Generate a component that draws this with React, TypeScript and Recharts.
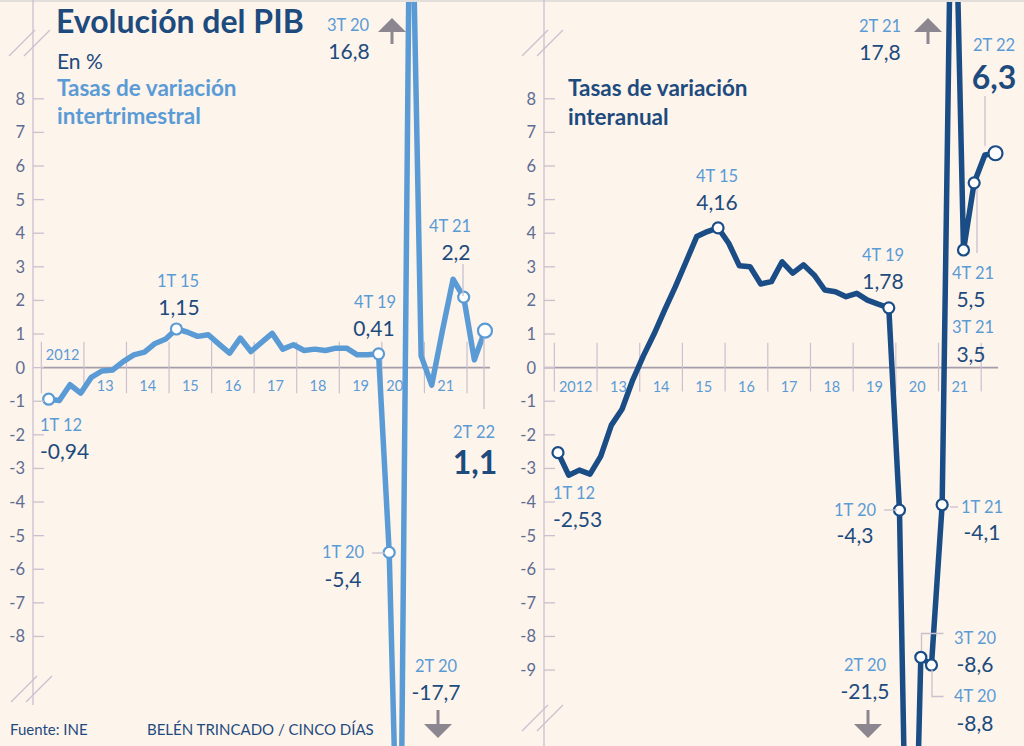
import React from "react";
import { LineChart, Line, XAxis, YAxis, ReferenceLine, ReferenceDot } from "recharts";

// 1T 12 ... 2T 22
const quarters = [
  "1T 12", "2T 12", "3T 12", "4T 12", "1T 13", "2T 13", "3T 13", "4T 13",
  "1T 14", "2T 14", "3T 14", "4T 14", "1T 15", "2T 15", "3T 15", "4T 15",
  "1T 16", "2T 16", "3T 16", "4T 16", "1T 17", "2T 17", "3T 17", "4T 17",
  "1T 18", "2T 18", "3T 18", "4T 18", "1T 19", "2T 19", "3T 19", "4T 19",
  "1T 20", "2T 20", "3T 20", "4T 20", "1T 21", "2T 21", "3T 21", "4T 21",
  "1T 22", "2T 22",
];
const years = ["2012", "13", "14", "15", "16", "17", "18", "19", "20", "21"];

const interQuarter = [
  -0.94, -0.98, -0.51, -0.76, -0.29, -0.1, -0.07, 0.18,
  0.38, 0.46, 0.72, 0.85, 1.15, 1.06, 0.93, 0.98,
  0.7, 0.43, 0.88, 0.48, 0.75, 1.02, 0.55, 0.68,
  0.51, 0.55, 0.51, 0.58, 0.58, 0.38, 0.38, 0.41,
  -5.5, -17.7, 16.8, 0.35, -0.52, 1.1, 2.63, 2.1,
  0.23, 1.1,
];
const interAnnual = [
  -2.53, -3.2, -3.05, -3.17, -2.64, -1.71, -1.24, -0.37,
  0.35, 1.0, 1.72, 2.41, 3.15, 3.9, 4.05, 4.16,
  3.7, 3.03, 3.0, 2.49, 2.56, 3.15, 2.81, 3.06,
  2.76, 2.31, 2.26, 2.11, 2.21, 2.01, 1.89, 1.78,
  -4.24, -21.5, -8.62, -8.85, -4.08, 17.8, 3.5, 5.5,
  6.33, 6.38,
];

const leftTicks = [8, 7, 6, 5, 4, 3, 2, 1, 0, -1, -2, -3, -4, -5, -6, -7, -8];
const rightTicks = [8, 7, 6, 5, 4, 3, 2, 1, 0, -1, -2, -3, -4, -5, -6, -7, -8, -9];

const leftMarked = [0, 12, 31, 32, 39, 41];
const rightMarked = [0, 15, 31, 32, 34, 35, 36, 38, 39, 41];

const BG = "#FDF4EC";
const NAVY = "#1D4B7E";
const LIGHT = "#5B9BD5";
const DARK_LINE = "#1A4C85";
const TICK_TEXT = "#5D6C92";
const AXIS = "#CBC0CF";
const ZERO = "#A59DA9";
const ARROW = "#8C8690";

const H = 746;
const Y_DOMAIN = [-11.26, 10.94];

const leftData = quarters.map((q, i) => ({ i, q, v: interQuarter[i] }));
const rightData = quarters.map((q, i) => ({ i, q, v: interAnnual[i] }));

const yTick = (p: any) => (
  <g>
    <text x={p.x} y={p.y} textAnchor="end" dominantBaseline="central" fontSize={16.5} fill={TICK_TEXT}>
      {String(p.payload.value)}
    </text>
    <line x1={p.x + 8} x2={p.x + 19} y1={p.y} y2={p.y} stroke={AXIS} strokeWidth={1.3} />
  </g>
);

const makeDot = (marked: number[], color: string, last: number) => (p: any) => {
  if (!marked.includes(p.index)) return <g key={`d${p.index}`} />;
  return (
    <circle
      key={`d${p.index}`}
      cx={p.cx}
      cy={p.cy}
      r={p.index === last ? 7 : 5.5}
      fill="#fff"
      stroke={color}
      strokeWidth={2.2}
    />
  );
};

type PanelProps = {
  data: { i: number; v: number }[];
  color: string;
  ticks: number[];
  marked: number[];
  axisW: number;
  xDomain: [number, number];
  sepOffset: number;
  zeroFrom: number;
  zeroTo: number;
  sepTop: number;
  sepBottom: number;
  yearY: number[];
  yearShift: number[];
};

function Panel(p: PanelProps) {
  return (
    <LineChart width={512} height={H} data={p.data} margin={{ top: 0, right: 0, bottom: 0, left: 0 }}>
      <XAxis type="number" dataKey="i" domain={p.xDomain} allowDataOverflow hide />
      <YAxis
        type="number"
        domain={Y_DOMAIN}
        allowDataOverflow
        width={p.axisW}
        ticks={p.ticks}
        interval={0}
        axisLine={false}
        tickLine={false}
        tickSize={0}
        tickMargin={8}
        tick={yTick}
      />
      <ReferenceLine
        segment={[{ x: p.zeroFrom, y: 0 }, { x: p.zeroTo, y: 0 }]}
        stroke={ZERO}
        strokeWidth={1.6}
      />
      {years.map((_, k) => (
        <ReferenceLine
          key={`s${k}`}
          segment={[
            { x: 4 * k + p.sepOffset, y: p.sepTop },
            { x: 4 * k + p.sepOffset, y: p.sepBottom },
          ]}
          stroke={AXIS}
          strokeWidth={1.2}
        />
      ))}
      <ReferenceLine
        segment={[
          { x: 4 * years.length + p.sepOffset, y: p.sepTop },
          { x: 4 * years.length + p.sepOffset, y: p.sepBottom },
        ]}
        stroke={AXIS}
        strokeWidth={1.2}
      />
      {years.map((yr, k) => (
        <ReferenceDot
          key={`y${k}`}
          x={4 * k + p.sepOffset + 2 + p.yearShift[k]}
          y={p.yearY[k]}
          r={0}
          fill="none"
          stroke="none"
          label={{ value: yr, position: "center", fill: LIGHT, fontSize: 14.5 }}
        />
      ))}
      <Line
        type="linear"
        dataKey="v"
        stroke={p.color}
        strokeWidth={5.5}
        strokeLinejoin="round"
        dot={makeDot(p.marked, p.color, p.data.length - 1)}
        activeDot={false}
        isAnimationActive={false}
      />
    </LineChart>
  );
}

const Q = ({ x, y, a = "middle", children }: any) => (
  <text x={x} y={y} textAnchor={a} dominantBaseline="central" fontSize={16.5} fill={LIGHT}>
    {children}
  </text>
);
const V = ({ x, y, a = "middle", big = false, children }: any) => (
  <text
    x={x}
    y={y}
    textAnchor={a}
    dominantBaseline="central"
    fontSize={big ? 32 : 21}
    fontWeight={big ? 700 : 400}
    fill={NAVY}
  >
    {children}
  </text>
);
const Up = ({ x }: { x: number }) => (
  <g>
    <line x1={x} x2={x} y1={30} y2={44} stroke={ARROW} strokeWidth={3} />
    <polygon points={`${x - 14},32 ${x + 14},32 ${x},18`} fill={ARROW} />
  </g>
);
const Down = ({ x }: { x: number }) => (
  <g>
    <line x1={x} x2={x} y1={710} y2={726} stroke={ARROW} strokeWidth={3} />
    <polygon points={`${x - 14},724 ${x + 14},724 ${x},738`} fill={ARROW} />
  </g>
);
const Brk = ({ x, y }: { x: number; y: number }) => (
  <g stroke={AXIS} strokeWidth={1.3}>
    <line x1={x} y1={y + 26} x2={x + 26} y2={y} />
    <line x1={x + 15} y1={y + 26} x2={x + 41} y2={y} />
  </g>
);
const lead = { stroke: AXIS, strokeWidth: 1.3, fill: "none" };

function Overlay() {
  return (
    <svg width={1024} height={H} style={{ position: "absolute", left: 0, top: 0, pointerEvents: "none" }}>
      <line x1={0} x2={1024} y1={1} y2={1} stroke="#E1DEDC" strokeWidth={2} />
      {/* axes */}
      <line x1={33} x2={33} y1={0} y2={705} stroke={AXIS} strokeWidth={1.3} />
      <line x1={544} x2={544} y1={0} y2={H} stroke={AXIS} strokeWidth={1.3} />
      <Brk x={9} y={30} />
      <Brk x={11} y={676} />
      <Brk x={522} y={30} />
      <Brk x={522} y={705} />

      {/* left panel */}
      <text x={56} y={33} fontSize={32} fontWeight={700} fill={NAVY}>Evolución del PIB</text>
      <text x={57} y={60} dominantBaseline="central" fontSize={21} fill={NAVY}>En %</text>
      <text x={57} y={87} dominantBaseline="central" fontSize={22.5} fontWeight={700} fill={LIGHT}>Tasas de variación</text>
      <text x={57} y={115} dominantBaseline="central" fontSize={22.5} fontWeight={700} fill={LIGHT}>intertrimestral</text>
      <Q x={348} y={25}>3T 20</Q>
      <V x={349} y={50}>16,8</V>
      <Up x={392} />
      <Q x={178} y={281}>1T 15</Q>
      <V x={179} y={306}>1,15</V>
      <Q x={375} y={302}>4T 19</Q>
      <V x={374} y={327}>0,41</V>
      <Q x={40} y={425} a="start">1T 12</Q>
      <V x={40} y={450} a="start">-0,94</V>
      <Q x={450} y={226}>4T 21</Q>
      <V x={456} y={251}>2,2</V>
      <line x1={463} x2={463} y1={264} y2={296} {...lead} />
      <Q x={474} y={432}>2T 22</Q>
      <V x={475} y={461} big>1,1</V>
      <line x1={484} x2={484} y1={338} y2={409} {...lead} />
      <Q x={343} y={552}>1T 20</Q>
      <line x1={372} x2={385} y1={553} y2={553} {...lead} />
      <V x={343} y={578}>-5,4</V>
      <Q x={436} y={666}>2T 20</Q>
      <V x={436} y={691}>-17,7</V>
      <Down x={438} />
      <text x={10} y={729} dominantBaseline="central" fontSize={15} fill={NAVY}>Fuente: INE</text>
      <text x={147} y={729} dominantBaseline="central" fontSize={15} fill={NAVY}>BELÉN TRINCADO / CINCO DÍAS</text>

      {/* right panel */}
      <text x={568} y={87} dominantBaseline="central" fontSize={22.5} fontWeight={700} fill={NAVY}>Tasas de variación</text>
      <text x={568} y={116} dominantBaseline="central" fontSize={22.5} fontWeight={700} fill={NAVY}>interanual</text>
      <Q x={880} y={26}>2T 21</Q>
      <V x={880} y={51}>17,8</V>
      <Up x={928} />
      <Q x={994} y={45}>2T 22</Q>
      <V x={994} y={76} big>6,3</V>
      <line x1={985} x2={985} y1={96} y2={146} {...lead} />
      <Q x={717} y={176}>4T 15</Q>
      <V x={717} y={201}>4,16</V>
      <Q x={883} y={255}>4T 19</Q>
      <V x={883} y={280}>1,78</V>
      <line x1={977} x2={977} y1={189} y2={253} {...lead} />
      <Q x={973} y={273}>4T 21</Q>
      <V x={971} y={298}>5,5</V>
      <Q x={973} y={327}>3T 21</Q>
      <V x={971} y={353}>3,5</V>
      <Q x={553} y={493} a="start">1T 12</Q>
      <V x={553} y={518} a="start">-2,53</V>
      <Q x={855} y={510}>1T 20</Q>
      <line x1={884} x2={897} y1={510} y2={510} {...lead} />
      <V x={855} y={534}>-4,3</V>
      <Q x={982} y={507}>1T 21</Q>
      <line x1={950} x2={958} y1={507} y2={507} {...lead} />
      <V x={982} y={531}>-4,1</V>
      <Q x={975} y={638}>3T 20</Q>
      <V x={975} y={663}>-8,6</V>
      <polyline points="921.5,651 921.5,633.5 943.5,633.5" {...lead} />
      <Q x={975} y={696}>4T 20</Q>
      <V x={975} y={722}>-8,8</V>
      <polyline points="932,670 932,696.5 943.5,696.5" {...lead} />
      <Q x={865} y={665}>2T 20</Q>
      <V x={865} y={690}>-21,5</V>
      <Down x={868} />
    </svg>
  );
}

export default function App() {
  return (
    <div
      style={{
        position: "absolute",
        left: 0,
        top: 0,
        width: 1024,
        height: H,
        background: BG,
        overflow: "hidden",
        fontFamily: "Lato, 'Open Sans', sans-serif",
      }}
    >
      <div style={{ position: "absolute", left: 0, top: 0 }}>
        <Panel
          data={leftData}
          color={LIGHT}
          ticks={leftTicks}
          marked={leftMarked}
          axisW={33}
          xDomain={[-1.476, 43.54]}
          sepOffset={-0.69}
          zeroFrom={-0.72}
          zeroTo={41.48}
          sepTop={0.77}
          sepBottom={-0.76}
          yearY={[0.38, -0.545, -0.545, -0.545, -0.545, -0.545, -0.545, -0.545, -0.545, -0.545]}
          yearShift={[0, 0, 0, 0, 0, 0, 0, 0, -0.8, 0]}
        />
      </div>
      <div style={{ position: "absolute", left: 512, top: 0 }}>
        <Panel
          data={rightData}
          color={DARK_LINE}
          ticks={rightTicks}
          marked={rightMarked}
          axisW={32}
          xDomain={[-1.312, 43.67]}
          sepOffset={-0.34}
          zeroFrom={-1.312}
          zeroTo={41.24}
          sepTop={0.74}
          sepBottom={-0.71}
          yearY={[-0.565, -0.565, -0.565, -0.565, -0.565, -0.565, -0.565, -0.565, -0.565, -0.565]}
          yearShift={[0, 0, 0, 0, 0, 0, 0, 0, 0, 0]}
        />
      </div>
      <Overlay />
    </div>
  );
}
